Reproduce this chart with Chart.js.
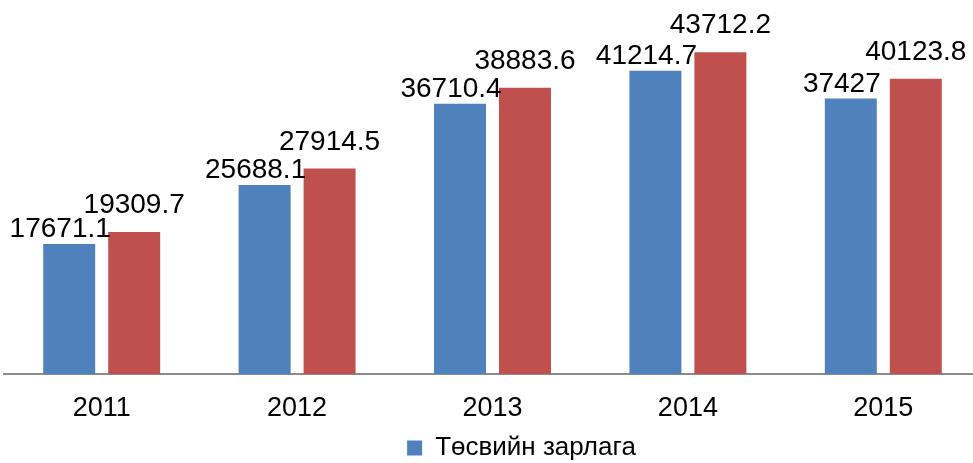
<!DOCTYPE html>
<html>
<head>
<meta charset="utf-8">
<script src="https://cdn.jsdelivr.net/npm/chart.js@4/dist/chart.umd.min.js"></script>
<style>
  html, body { margin: 0; padding: 0; background: #fff; overflow: hidden; }
  #wrap { width: 985px; height: 463px; }
</style>
</head>
<body>
<div id="wrap"><canvas id="budget-chart"></canvas></div>
<script>
// chart data
let years = ['2011', '2012', '2013', '2014', '2015'];
let spending = [17671.1, 25688.1, 36710.4, 41214.7, 37427];
let revenue = [19309.7, 27914.5, 38883.6, 43712.2, 40123.8];
let seriesNames = ['Төсвийн зарлага', 'Төсвийн орлого'];

let fontName = '"Liberation Sans", Arial, sans-serif';

// draws the value above each bar
let valueLabels = {
	id: 'valueLabels',
	afterDatasetsDraw(chart) {
		let ctx = chart.ctx;
		ctx.save();
		ctx.font = '28px ' + fontName;
		ctx.fillStyle = '#000';
		ctx.textAlign = 'center';
		ctx.textBaseline = 'alphabetic';
		chart.data.datasets.forEach(function(ds, i) {
			let meta = chart.getDatasetMeta(i);
			let shift = i == 0 ? -9 : 0;
			let gap = i == 0 ? 7 : 19;
			meta.data.forEach(function(bar, j) {
				ctx.fillText(String(ds.data[j]), bar.x + shift, bar.y - gap);
			});
		});
		ctx.restore();
	}
};

// legend sits a bit right of centre in the original
let legendShift = {
	id: 'legendShift',
	afterLayout(chart) {
		chart.legend.left += 29;
		chart.legend.right += 29;
	}
};

let ctx = document.querySelector('#budget-chart').getContext('2d');

let budgetChart = new Chart(ctx, {
	type: 'bar',
	data: {
		labels: years,
		datasets: [
			{
				label: seriesNames[0],
				backgroundColor: '#4F81BD',
				data: spending
			},
			{
				label: seriesNames[1],
				backgroundColor: '#C0504D',
				data: revenue
			}
		]
	},
	options: {
		responsive: true,
		maintainAspectRatio: false,
		animation: false,
		layout: { padding: { left: 4, right: 4, top: 6, bottom: -8 } },
		datasets: {
			bar: { categoryPercentage: 0.665, barPercentage: 0.8 }
		},
		scales: {
			x: {
				grid: { display: false, drawTicks: false },
				border: { color: '#8c8c8c', width: 2 },
				ticks: { color: '#000', padding: 18, font: { family: fontName, size: 27 } },
				afterFit: function(scale) { scale.height = 55; }
			},
			y: {
				display: false,
				min: 0,
				max: 50000
			}
		},
		plugins: {
			legend: {
				position: 'bottom',
				labels: {
					color: '#000',
					boxWidth: 15,
					boxHeight: 15,
					padding: 6,
					font: { family: fontName, size: 26 },
					filter: function(item) { return item.datasetIndex == 0; }
				}
			},
			tooltip: { enabled: false }
		}
	},
	plugins: [valueLabels, legendShift]
});
</script>
</body>
</html>
